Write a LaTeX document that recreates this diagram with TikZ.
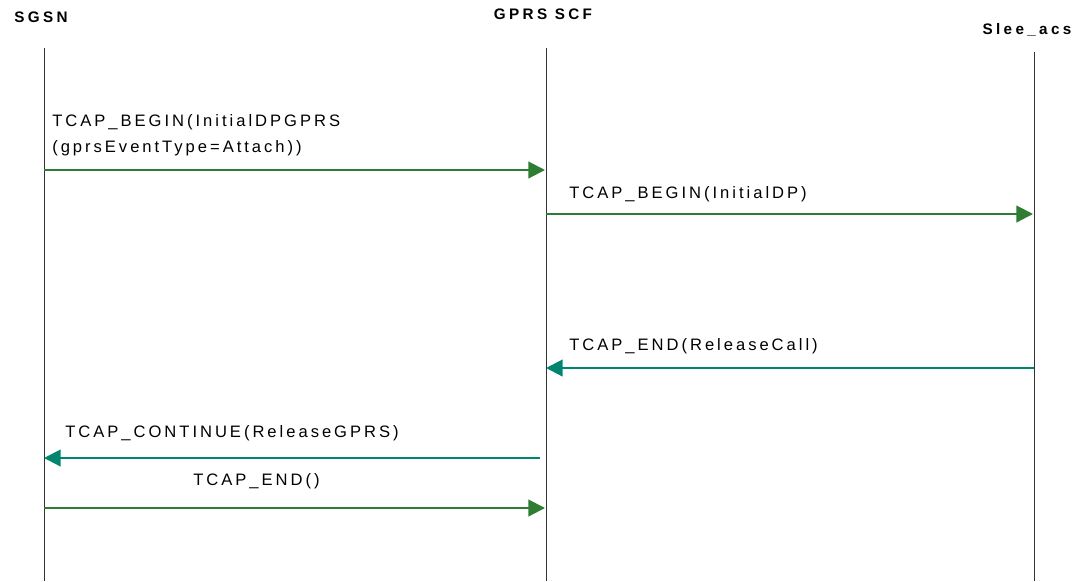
\documentclass[tikz,border=0pt]{standalone}
\usepackage{fontspec}
\setmainfont{Liberation Sans}
\newfontfamily\msgfont[LetterSpace=18]{Liberation Sans}
\newfontfamily\headfont[LetterSpace=22]{Liberation Sans}
\usetikzlibrary{arrows.meta}

\definecolor{msggreen}{RGB}{46,125,50}
\definecolor{msgteal}{RGB}{0,133,110}

\tikzset{
	lifeline/.style={line width=0.7pt, black!80},
	msgto/.style={line width=1.6pt, msggreen, -{Triangle[length=12.5pt, width=12.5pt]}},
	msgback/.style={line width=1.6pt, msgteal, -{Triangle[length=12.5pt, width=12.5pt]}},
	head/.style={font=\headfont\fontsize{11.5}{13}\selectfont\bfseries},
	msglabel/.style={font=\msgfont\fontsize{12.5}{19.5}\selectfont, anchor=west, align=left, inner sep=0pt}
}

\begin{document}
\begin{tikzpicture}[x=0.0265cm, y=-0.0265cm]
		\useasboundingbox (0, 0) rectangle (1085, 581);

		% heads of the three lanes
		\node [head] (sgsn) at (41, 17) {SGSN};
		\node [head] (scf) at (543, 14) {GPRS SCF};
		\node [head] (slee) at (1027, 30) {Slee\_acs};

		% lifelines
		\coordinate (sgsnTop) at (44, 48);
		\coordinate (sgsnBot) at (44, 581);
		\coordinate (scfTop) at (546, 48);
		\coordinate (scfBot) at (546, 581);
		\coordinate (sleeTop) at (1034, 52);
		\coordinate (sleeBot) at (1034, 581);
		\draw [lifeline] (sgsnTop) -- (sgsnBot);
		\draw [lifeline] (scfTop) -- (scfBot);
		\draw [lifeline] (sleeTop) -- (sleeBot);

		% InitialDPGPRS
		\coordinate (m1a) at (44, 170);
		\coordinate (m1b) at (545, 170);
		\draw [msgto] (m1a) -- (m1b);
		\node [msglabel] (l1) at (52, 135) {TCAP\_BEGIN(InitialDPGPRS\\(gprsEventType=Attach))};

		% InitialDP
		\coordinate (m2a) at (546, 214);
		\coordinate (m2b) at (1033, 214);
		\draw [msgto] (m2a) -- (m2b);
		\node [msglabel] (l2) at (569, 194) {TCAP\_BEGIN(InitialDP)};

		% ReleaseCall
		\coordinate (m3a) at (1034, 368);
		\coordinate (m3b) at (546, 368);
		\draw [msgback] (m3a) -- (m3b);
		\node [msglabel] (l3) at (569, 346) {TCAP\_END(ReleaseCall)};

		% ReleaseGPRS
		\coordinate (m4a) at (540, 458);
		\coordinate (m4b) at (44, 458);
		\draw [msgback] (m4a) -- (m4b);
		\node [msglabel] (l4) at (65, 433) {TCAP\_CONTINUE(ReleaseGPRS)};

		% TCAP_END
		\coordinate (m5a) at (44, 508);
		\coordinate (m5b) at (545, 508);
		\draw [msgto] (m5a) -- (m5b);
		\node [msglabel] (l5) at (193, 481) {TCAP\_END()};
	\end{tikzpicture}
\end{document}
